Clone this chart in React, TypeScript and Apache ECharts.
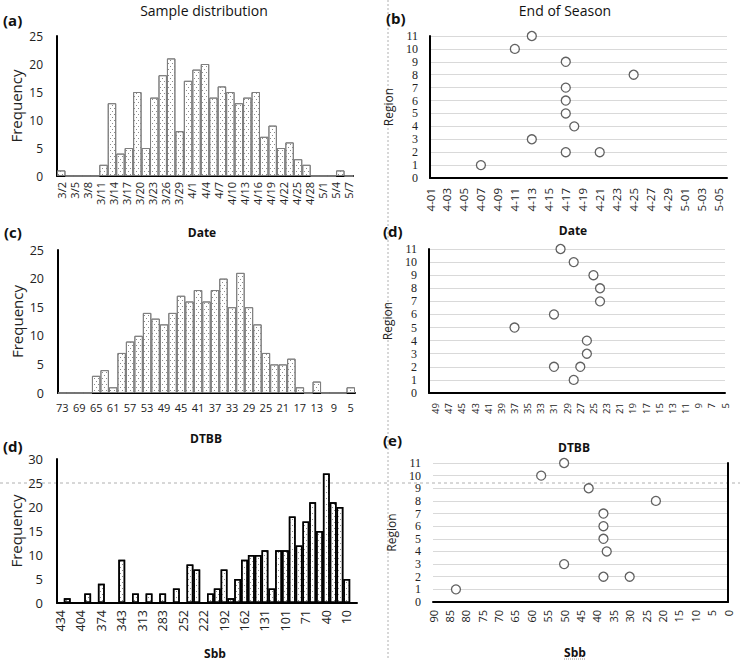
import React, { useEffect, useRef } from 'react';
import * as echarts from 'echarts';

// ---------- (a) Sample distribution by Date (35 bins) ----------
const dateFreq = [1, 0, 0, 0, 0, 2, 13, 4, 5, 15, 5, 14, 18, 21, 8, 17, 19, 20, 14, 16, 15, 13, 14, 15, 7, 9, 5, 6, 3, 2, 0, 0, 0, 1, 0];
const dateTicks = ['3/2', '3/5', '3/8', '3/11', '3/14', '3/17', '3/20', '3/23', '3/26', '3/29', '4/1', '4/4', '4/7', '4/10', '4/13', '4/16', '4/19', '4/22', '4/25', '4/28', '5/1', '5/4', '5/7'];

// ---------- (c) Sample distribution by DTBB (35 bins) ----------
const dtbbBins = [73, 71, 69, 67, 65, 63, 61, 59, 57, 55, 53, 51, 49, 47, 45, 43, 41, 39, 37, 35, 33, 31, 29, 27, 25, 23, 21, 19, 17, 15, 13, 11, 9, 7, 5];
const dtbbFreq = [0, 0, 0, 0, 3, 4, 1, 7, 9, 10, 14, 13, 12, 14, 17, 16, 18, 16, 18, 20, 15, 21, 15, 12, 7, 5, 5, 6, 1, 0, 2, 0, 0, 0, 1];

// ---------- (d) Sample distribution by Sbb (44 bins) ----------
const sbbTicks = ['434', '404', '374', '343', '313', '283', '252', '222', '192', '162', '131', '101', '71', '40', '10'];
const sbbFreq = [0, 1, 0, 0, 2, 0, 4, 0, 0, 9, 0, 2, 0, 2, 0, 2, 0, 3, 0, 8, 7, 0, 2, 3, 7, 1, 5, 9, 10, 10, 11, 3, 11, 11, 18, 12, 17, 21, 15, 27, 21, 20, 5, 0];

// ---------- End of season by region ----------
const eosRegion = [1, 2, 2, 3, 4, 5, 6, 7, 8, 9, 10, 11];
const eosDate = ['4-07', '4-17', '4-21', '4-13', '4-18', '4-17', '4-17', '4-17', '4-25', '4-17', '4-11', '4-13'];
const eosDtbb = [28, 31, 27, 26, 26, 37, 31, 24, 24, 25, 28, 30];
const eosSbb = [83, 38, 30, 50, 37, 38, 38, 38, 22, 42.5, 57, 50];

const SANS = 'Open Sans';
const SERIF = 'Liberation Serif';
const DAY = 86400000;
const seasonStart = Date.UTC(2021, 3, 1);
const dayOf = (md: string) => {
  const [m, d] = md.split('-').map(Number);
  return (Date.UTC(2021, m - 1, d) - seasonStart) / DAY;
};
const fmtDay = (v: number) => {
  const dt = new Date(seasonStart + v * DAY);
  return `${dt.getUTCMonth() + 1}-${String(dt.getUTCDate()).padStart(2, '0')}`;
};

const dots = {
  symbol: 'rect',
  symbolSize: 1,
  color: '#8a8a8a',
  dashArrayX: [[1, 3], [0, 2, 1, 1]],
  dashArrayY: [1, 2],
};

const blackAxis = { show: true, onZero: true, lineStyle: { color: '#000', width: 2 } };

function histY(gridIndex: number, max: number, fontSize: number) {
  return {
    type: 'value', gridIndex, min: 0, max, interval: 5,
    axisLine: blackAxis, axisTick: { show: false }, splitLine: { show: false },
    axisLabel: { fontFamily: SANS, fontSize, color: '#222', margin: 14, showMinLabel: true, showMaxLabel: true, hideOverlap: false },
    name: 'Frequency', nameLocation: 'middle', nameGap: 34,
    nameTextStyle: { fontFamily: SANS, fontSize: 15, color: '#222' },
  };
}

function regionY(gridIndex: number) {
  return {
    type: 'value', gridIndex, min: 0, max: 11, interval: 1,
    axisLine: blackAxis, axisTick: { show: false },
    splitLine: { show: true, lineStyle: { color: '#d9d9d9', width: 1 } },
    axisLabel: {
      fontFamily: SERIF, fontSize: 12, lineHeight: 11, color: '#222', margin: 12,
      showMinLabel: true, showMaxLabel: true, hideOverlap: false,
    },
    name: 'Region', nameLocation: 'middle', nameGap: 36,
    nameTextStyle: { fontFamily: SANS, fontSize: 12, color: '#222' },
  };
}

const scatterStyle = {
  type: 'scatter', symbol: 'circle', symbolSize: 9,
  itemStyle: { color: '#fff', borderColor: '#3a3a3a', borderWidth: 1.3 },
};

function txt(text: string, x: number, y: number, fontSize: number, bold = false, align = 'center') {
  return {
    type: 'text', x, y, silent: true,
    style: { text, fontFamily: SANS, fontSize, fontWeight: bold ? 'bold' : 'normal', fill: '#111', align, verticalAlign: 'middle' },
  };
}

export default function App() {
  const ref = useRef<HTMLDivElement>(null);
  useEffect(() => {
    document.body.style.margin = '0';
    const chart = echarts.init(ref.current!, null, { renderer: 'svg' });
    const option: any = {
      animation: false,
      backgroundColor: '#fff',
      grid: [
        { left: 57, top: 36, width: 296, height: 140 },
        { left: 61.2, top: 36, width: 287.6, height: 140 },
        { left: 58, top: 250, width: 297, height: 143 },
        { left: 57, top: 459, width: 300, height: 144 },
        { left: 430, top: 36, width: 297, height: 142 },
        { left: 429, top: 249, width: 296, height: 144 },
        { left: 433, top: 463, width: 295, height: 139 },
      ],
      xAxis: [
        { type: 'category', gridIndex: 0, data: dateFreq.map((_, i) => String(i)), axisLine: blackAxis, axisTick: { show: false }, axisLabel: { show: false } },
        {
          type: 'category', gridIndex: 1, data: dateTicks, boundaryGap: false,
          axisLine: { show: false }, axisTick: { show: false },
          axisLabel: { interval: 0, rotate: 90, fontFamily: SANS, fontSize: 11, lineHeight: 11, color: '#222', margin: 6, hideOverlap: false },
        },
        {
          type: 'category', gridIndex: 2, data: dtbbBins.map(String), axisLine: blackAxis, axisTick: { show: false },
          axisLabel: { interval: 1, fontFamily: SANS, fontSize: 11, color: '#222', margin: 9 },
        },
        {
          type: 'category', gridIndex: 3, data: sbbFreq.map((_, i) => (i % 3 === 0 ? sbbTicks[i / 3] : '')),
          axisLine: blackAxis, axisTick: { show: false },
          axisLabel: { interval: 0, rotate: 90, fontFamily: SANS, fontSize: 12.5, color: '#222', margin: 7 },
        },
        {
          type: 'value', gridIndex: 4, min: 0, max: 35, interval: 2,
          axisLine: blackAxis, axisTick: { show: false }, splitLine: { show: false },
          axisLabel: { rotate: 90, fontFamily: SANS, fontSize: 11.5, color: '#222', margin: 10, showMinLabel: true, showMaxLabel: false, hideOverlap: false, formatter: (v: number) => fmtDay(v) },
        },
        {
          type: 'value', gridIndex: 5, min: 5, max: 50, interval: 2, inverse: true,
          axisLine: blackAxis, axisTick: { show: false }, splitLine: { show: false },
          axisLabel: { rotate: 90, fontFamily: SANS, fontSize: 9.5, color: '#222', margin: 10, showMinLabel: true, showMaxLabel: false, hideOverlap: false },
        },
        {
          type: 'value', gridIndex: 6, min: 0, max: 90, interval: 5, inverse: true,
          axisLine: blackAxis, axisTick: { show: false }, splitLine: { show: false },
          axisLabel: { rotate: 90, fontFamily: SANS, fontSize: 11, color: '#222', margin: 8, showMinLabel: true, showMaxLabel: true, hideOverlap: false },
        },
      ],
      yAxis: [
        histY(0, 25, 12),
        { type: 'value', gridIndex: 1, min: 0, max: 25, show: false },
        histY(2, 25, 12.5),
        histY(3, 30, 13),
        regionY(4),
        regionY(5),
        regionY(6),
      ],
      series: [
        {
          type: 'bar', xAxisIndex: 0, yAxisIndex: 0, data: dateFreq, barCategoryGap: '0%',
          itemStyle: { color: '#fff', borderColor: '#7f7f7f', borderWidth: 1, decal: dots },
        },
        {
          type: 'bar', xAxisIndex: 2, yAxisIndex: 2, data: dtbbFreq, barCategoryGap: '0%',
          itemStyle: { color: '#fff', borderColor: '#7f7f7f', borderWidth: 1, decal: dots },
        },
        {
          type: 'bar', xAxisIndex: 3, yAxisIndex: 3, data: sbbFreq, barCategoryGap: '0%',
          itemStyle: { color: '#fff', borderColor: '#000', borderWidth: 1.5, decal: dots },
        },
        { ...scatterStyle, xAxisIndex: 4, yAxisIndex: 4, data: eosDate.map((d, i) => [dayOf(d), eosRegion[i]]) },
        { ...scatterStyle, xAxisIndex: 5, yAxisIndex: 5, data: eosDtbb.map((v, i) => [v, eosRegion[i]]) },
        { ...scatterStyle, xAxisIndex: 6, yAxisIndex: 6, data: eosSbb.map((v, i) => [v, eosRegion[i]]) },
      ],
      graphic: [
        { type: 'line', z: -10, silent: true, shape: { x1: 388, y1: 0, x2: 388, y2: 660 }, style: { stroke: '#b0b0b0', lineWidth: 1, lineDash: [2, 2] } },
        { type: 'line', z: -10, silent: true, shape: { x1: 0, y1: 483, x2: 740, y2: 483 }, style: { stroke: '#b0b0b0', lineWidth: 1, lineDash: [3, 3] } },
        txt('Sample distribution', 204, 10, 14),
        txt('End of Season', 565, 10, 14),
        txt('(a)', 3, 20, 15, true, 'left'),
        txt('(b)', 386, 18, 15, true, 'left'),
        txt('(c)', 4, 232, 15, true, 'left'),
        txt('(d)', 3, 446, 15, true, 'left'),
        txt('(d)', 383, 231, 15, true, 'left'),
        txt('(e)', 383, 440, 15, true, 'left'),
        txt('Date', 202, 232, 12, true),
        txt('DTBB', 206, 438, 12, true),
        txt('Sbb', 215, 653, 12, true),
        txt('Date', 573, 230, 12, true),
        txt('DTBB', 574, 447, 12, true),
        txt('Sbb', 575, 652, 12, true),
        { type: 'line', silent: true, shape: { x1: 564, y1: 659, x2: 586, y2: 659 }, style: { stroke: '#9a9a9a', lineWidth: 1, lineDash: [1, 1] } },
      ],
    };
    chart.setOption(option);
    return () => chart.dispose();
  }, []);
  return <div ref={ref} style={{ width: 740, height: 660 }} />;
}
